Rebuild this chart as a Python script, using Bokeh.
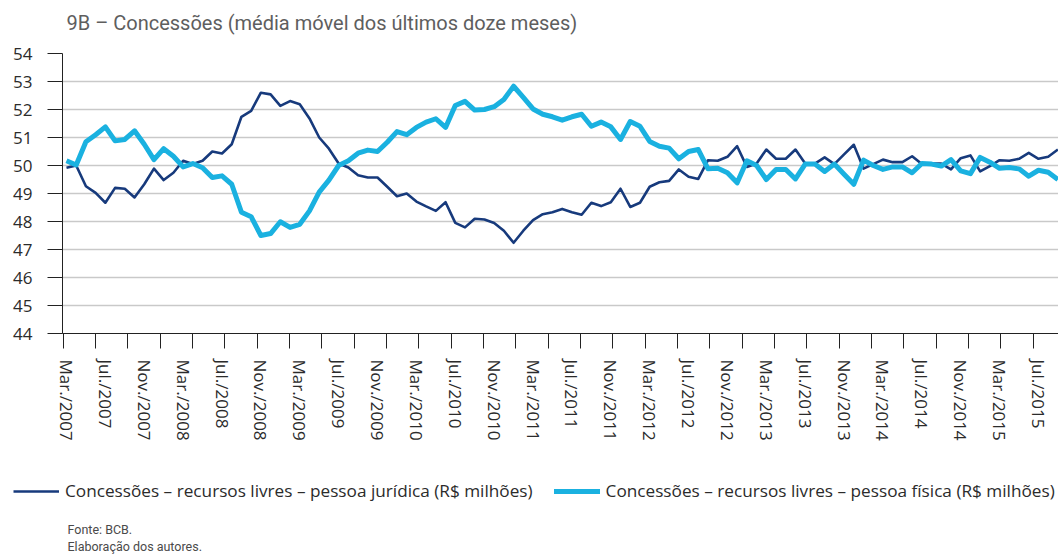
import numpy as np
from bokeh.plotting import figure
from bokeh.layouts import column
from bokeh.models import (ColumnDataSource, FixedTicker, Label, Legend, LegendItem,
                          Range1d)
from bokeh.embed import file_html
from bokeh.resources import INLINE

# ---------------- data ----------------
month_names = ["Jan.", "Feb.", "Mar.", "Apr.", "May.", "Jun.", "Jul.", "Aug.", "Sep.", "Oct.", "Nov.", "Dec."]
months = [f"{month_names[(2 + i) % 12]}/{2007 + (2 + i) // 12}" for i in range(103)]  # Mar/2007 .. Sep/2015

pj = [49.92, 50.00, 49.26, 49.02, 48.67, 49.20, 49.17, 48.86, 49.33, 49.89,
      49.48, 49.74, 50.17, 50.05, 50.17, 50.50, 50.43, 50.76, 51.74, 51.95,
      52.60, 52.54, 52.13, 52.30, 52.19, 51.68, 51.00, 50.60, 50.07, 49.93,
      49.65, 49.57, 49.57, 49.24, 48.90, 49.00, 48.71, 48.54, 48.38, 48.69,
      47.95, 47.79, 48.10, 48.07, 47.95, 47.67, 47.24, 47.67, 48.05, 48.26,
      48.33, 48.45, 48.33, 48.24, 48.67, 48.55, 48.69, 49.17, 48.52, 48.67,
      49.24, 49.40, 49.45, 49.86, 49.60, 49.52, 50.19, 50.17, 50.31, 50.69,
      49.95, 50.07, 50.57, 50.24, 50.24, 50.57, 50.07, 50.07, 50.29, 50.05,
      50.40, 50.74, 49.89, 50.05, 50.21, 50.12, 50.12, 50.33, 50.05, 50.07,
      50.07, 49.86, 50.26, 50.36, 49.79, 49.98, 50.19, 50.17, 50.24, 50.45,
      50.24, 50.31, 50.57]

pf = [50.17, 50.02, 50.85, 51.10, 51.38, 50.88, 50.93, 51.24, 50.76, 50.21,
      50.60, 50.33, 49.95, 50.07, 49.92, 49.57, 49.63, 49.33, 48.33, 48.17,
      47.50, 47.57, 47.99, 47.79, 47.90, 48.38, 49.05, 49.48, 50.00, 50.17,
      50.44, 50.55, 50.50, 50.83, 51.21, 51.10, 51.36, 51.55, 51.67, 51.36,
      52.14, 52.29, 51.98, 52.00, 52.10, 52.36, 52.83, 52.43, 52.02, 51.83,
      51.74, 51.62, 51.74, 51.83, 51.40, 51.55, 51.38, 50.93, 51.57, 51.40,
      50.86, 50.69, 50.62, 50.24, 50.50, 50.57, 49.88, 49.90, 49.74, 49.38,
      50.17, 50.00, 49.50, 49.86, 49.86, 49.52, 50.05, 50.05, 49.79, 50.05,
      49.69, 49.33, 50.19, 50.00, 49.86, 49.95, 49.95, 49.74, 50.07, 50.05,
      49.98, 50.21, 49.81, 49.71, 50.29, 50.12, 49.90, 49.93, 49.88, 49.62,
      49.83, 49.76, 49.50]

y_ticks = list(range(44, 55))
label_step = 4
tick_mark_start = -0.34
tick_mark_step = 3.327

title_text = "9B – Concessões (média móvel dos últimos doze meses)"
legend_pj = "Concessões – recursos livres – pessoa jurídica (R$ milhões)"
legend_pf = "Concessões – recursos livres – pessoa física (R$ milhões)"
footer1 = "Fonte: BCB."
footer2 = "Elaboração dos autores."

# ---------------- styles ----------------
DARK = "#173a7c"
LIGHT = "#1ab1e0"
TXT = "#2b2b2b"
W = 1058
H_TOP, H_MAIN, H_BOT = 40, 420, 94


def blank(height):
    f = figure(width=W, height=height, output_backend="svg", toolbar_location=None,
               x_axis_type=None, y_axis_type=None, x_range=Range1d(0, 1), y_range=Range1d(0, 1),
               min_border=0)
    f.frame_align = False
    f.outline_line_color = None
    f.grid.visible = False
    return f


# ---------------- header ----------------
top = blank(H_TOP)
top.add_layout(Label(x=66, y=H_TOP - 22, x_units="screen", y_units="screen", text=title_text,
                     text_font="Roboto", text_font_size="20px", text_color="#5e5e5e",
                     text_baseline="middle", text_align="left"))

# ---------------- main chart ----------------
x = list(range(len(months)))
src = ColumnDataSource(dict(x=x, pj=pj, pf=pf))

p = figure(width=W, height=H_MAIN, output_backend="svg", toolbar_location=None,
           x_range=Range1d(-0.41, 102.06), y_range=Range1d(44, 54),
           min_border_left=62, min_border_right=0, min_border_top=13,
           min_border_bottom=127)
p.frame_align = False
p.outline_line_color = None

p.line("x", "pj", source=src, line_color=DARK, line_width=2.6, line_join="round")
p.line("x", "pf", source=src, line_color=LIGHT, line_width=5, line_join="round")

p.xgrid.visible = False
p.ygrid.ticker = FixedTicker(ticks=y_ticks)
p.ygrid.grid_line_color = "#c9c9c9"
p.ygrid.grid_line_width = 1.3

ya = p.yaxis[0]
ya.ticker = FixedTicker(ticks=y_ticks)
ya.axis_line_color = "#222222"
ya.major_tick_line_color = "#222222"
ya.major_tick_out = 15
ya.major_tick_in = 0
ya.minor_tick_line_color = None
ya.major_label_standoff = 15
ya.major_label_text_font = "Open Sans"
ya.major_label_text_font_size = "17px"
ya.major_label_text_color = TXT

xa = p.xaxis[0]
label_pos = [v for v in range(0, len(months), label_step) if v <= 100]
mark_pos = list(np.arange(tick_mark_start, len(months), tick_mark_step))
xa.ticker = FixedTicker(ticks=label_pos, minor_ticks=mark_pos)
xa.major_label_overrides = {v: months[v] for v in label_pos}
xa.major_label_orientation = "vertical"
xa.axis_line_color = "#222222"
xa.major_tick_line_color = None
xa.major_tick_out = 0
xa.major_tick_in = 0
xa.minor_tick_line_color = "#222222"
xa.minor_tick_out = 15
xa.minor_tick_in = 0
xa.major_label_standoff = 11
xa.major_label_text_font = "Open Sans"
xa.major_label_text_font_size = "17px"
xa.major_label_text_color = TXT

# ---------------- footer (legend + source) ----------------
bot = blank(H_BOT)
swatch = ColumnDataSource(dict(x=[np.nan], y=[np.nan]))
s_pj = bot.line("x", "y", source=swatch, line_color=DARK, line_width=2.6)
s_pf = bot.line("x", "y", source=swatch, line_color=LIGHT, line_width=5, line_cap="round")
legend = Legend(items=[LegendItem(label=legend_pj, renderers=[s_pj]),
                       LegendItem(label=legend_pf, renderers=[s_pf])],
                location=(13, H_BOT - 42), orientation="horizontal",
                glyph_width=46, glyph_height=20, label_standoff=6, spacing=21,
                padding=0, margin=0, border_line_alpha=0, background_fill_alpha=0,
                label_text_font="Open Sans", label_text_font_size="17.2px",
                label_text_color=TXT, label_height=20)
bot.add_layout(legend, "center")

for txt, yy in ((footer1, H_BOT - 69), (footer2, H_BOT - 86)):
    bot.add_layout(Label(x=67, y=yy, x_units="screen", y_units="screen", text=txt,
                         text_font="Roboto", text_font_size="12.5px", text_color="#4a4a4a",
                         text_baseline="middle", text_align="left"))

layout = column(top, p, bot, spacing=0)
open("out.html", "w").write(file_html(layout, INLINE))
